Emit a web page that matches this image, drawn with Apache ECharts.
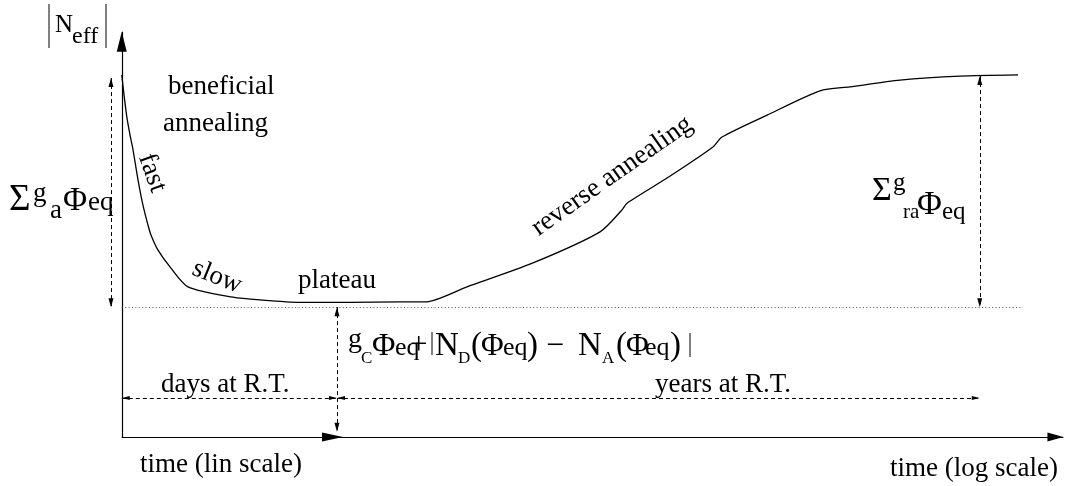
<!DOCTYPE html>
<html>
<head>
<meta charset="utf-8">
<script src="https://cdn.jsdelivr.net/npm/echarts@6/dist/echarts.min.js"></script>
<style>
  html, body { margin: 0; padding: 0; background: #ffffff; }
  #chart { width: 1069px; height: 486px; }
</style>
</head>
<body>
<div id="chart"></div>
<script>
// Annealing of |N_eff| after irradiation (schematic, arbitrary units)
const timeValues = [0, 0.24, 0.56, 0.89, 1.21, 1.75, 2.28, 2.82, 3.14, 3.90, 5.19, 7.12,
  11.97, 14.87, 19.17, 24.55, 29.93, 32.62, 37.14, 44.24, 51.45, 53.81, 54.35, 58.66,
  63.60, 64.57, 69.41, 75.12, 78.34, 83.72, 90.18, 96.42];
const neffValues = [90.9, 85.9, 80.1, 75.8, 72.1, 64.5, 58.2, 53.2, 50.7, 46.9, 42.7, 37.7,
  35.1, 34.4, 33.8, 33.8, 33.9, 33.9, 37.7, 43.7, 51.5, 57.0, 58.7, 65.0,
  72.8, 75.3, 80.8, 86.9, 87.9, 89.6, 90.6, 90.9];

// Levels and boundaries of the annotated quantities
const stableLevel = 32.6;      // g_C Φ_eq + |N_D − N_A|
const beneficialTop = 90.1;    // start of beneficial annealing
const reverseTop = 90.6;       // saturation of reverse annealing
const linLogBoundary = 23.15;  // end of the "days at R.T." span
const yearsEnd = 92.3;         // end of the "years at R.T." span
const timeAxisEnd = 101.3;
const linAxisEnd = 23.8;
const neffAxisEnd = 101.7;
const stableLineEnd = 96.95;
const beneficialArrowX = -1.16;
const reverseArrowX = 92.3;
const spanRowY = 9.8;          // height of the time-span arrows
const spanDividerBottom = 1.3;

const X_MIN = -13.1, X_MAX = 101.9, Y_MIN = -12.3, Y_MAX = 109.7;

const chart = echarts.init(document.getElementById('chart'), null, { renderer: 'canvas' });

const serif = '"Liberation Serif", "Times New Roman", serif';

function tipEnd(coord, w, h) {
  return { coord, symbol: 'triangle', symbolSize: [w, h], symbolOffset: [0, h / 2] };
}
function plain(coord) { return { coord, symbol: 'none' }; }

const solid = { color: '#000', width: 1.2, type: 'solid' };
const dashed = { color: '#000', width: 1, type: [4, 3] };
const dotted = { color: '#555', width: 1, type: [1, 2.4] };

const markLines = [
  // axes
  [Object.assign(plain([0, 0]), { lineStyle: solid }), tipEnd([0, neffAxisEnd], 10, 20)],
  [Object.assign(plain([0, 0]), { lineStyle: solid }), tipEnd([timeAxisEnd, 0], 9, 16)],
  [Object.assign(plain([0, 0]), { lineStyle: solid }), tipEnd([linAxisEnd, 0], 9, 21)],
  // stable damage level
  [Object.assign(plain([0, stableLevel]), { lineStyle: dotted }), plain([stableLineEnd, stableLevel])],
  // amplitude of beneficial annealing
  [Object.assign(tipEnd([beneficialArrowX, beneficialTop], 5, 9), { lineStyle: dashed }),
   tipEnd([beneficialArrowX, stableLevel], 5, 9)],
  // amplitude of reverse annealing
  [Object.assign(tipEnd([reverseArrowX, reverseTop], 5, 9), { lineStyle: dashed }),
   tipEnd([reverseArrowX, stableLevel], 5, 9)],
  // stable damage amplitude
  [Object.assign(tipEnd([linLogBoundary, stableLevel], 5, 9), { lineStyle: dashed }),
   tipEnd([linLogBoundary, spanDividerBottom], 5, 9)],
  // time spans
  [Object.assign(tipEnd([0, spanRowY], 4, 8), { lineStyle: dashed }),
   tipEnd([linLogBoundary, spanRowY], 4, 8)],
  [Object.assign(tipEnd([linLogBoundary, spanRowY], 4, 8), { lineStyle: dashed }),
   tipEnd([yearsEnd, spanRowY], 4, 8)]
];

function piece(text, x, baseline, size) {
  return {
    type: 'text', x: x, y: baseline - 0.27 * size, silent: true,
    style: { text: text, font: size + 'px ' + serif, fill: '#000', align: 'left', verticalAlign: 'middle' }
  };
}
function turned(text, cx, cy, deg, size) {
  return {
    type: 'text', x: cx, y: cy, rotation: deg * Math.PI / 180, silent: true,
    style: { text: text, font: size + 'px ' + serif, fill: '#000', align: 'center', verticalAlign: 'middle' }
  };
}
function bar(x, y1, y2) {
  return { type: 'line', silent: true, shape: { x1: x, y1: y1, x2: x, y2: y2 }, style: { stroke: '#000', lineWidth: 1 } };
}

const texts = [
  // |N_eff|
  bar(49, 4, 48), bar(106, 4, 48),
  piece('N', 55, 32, 25), piece('eff', 72, 43, 24),
  // phase labels
  piece('beneficial', 168, 94, 27),
  piece('annealing', 163, 131, 27),
  turned('fast', 152, 173, -70, 27),
  turned('slow', 217, 277, -22, 27),
  piece('plateau', 298, 288, 27),
  turned('reverse annealing', 612, 176, 35, 27),
  // Σ g_a Φ_eq
  piece('Σ', 9, 210, 37), piece('g', 33, 201, 27), piece('a', 50, 218, 27),
  piece('Φ', 63, 210, 33), piece('eq', 88, 210, 27),
  // Σ g_ra Φ_eq
  piece('Σ', 872, 200, 34), piece('g', 893, 190, 25), piece('ra', 903, 218, 21),
  piece('Φ', 917, 214, 34), piece('eq', 942, 219, 25),
  // g_C Φ_eq + |N_D(Φ_eq) − N_A(Φ_eq)|
  piece('g', 348, 347, 28), piece('C', 361, 363, 17),
  piece('Φ', 372, 355, 32), piece('eq', 395, 355, 26),
  piece('+', 410, 354, 31), bar(432, 332, 355),
  piece('N', 435, 355, 33), piece('D', 458, 363, 17),
  piece('(', 471, 355, 33), piece('Φ', 481, 355, 31), piece('eq', 503, 355, 26), piece(')', 527, 355, 33),
  piece('−', 546, 355, 32),
  piece('N', 578, 355, 33), piece('A', 602, 363, 17),
  piece('(', 616, 355, 33), piece('Φ', 626, 355, 31), piece('eq', 645, 355, 26), piece(')', 670, 355, 33),
  bar(690, 333, 357),
  // time spans and axis titles
  piece('days at R.T.', 161, 392, 27),
  piece('years at R.T.', 655, 392, 27),
  piece('time (lin scale)', 140, 472, 27),
  piece('time (log scale)', 890, 476, 27)
];

chart.setOption({
  animation: false,
  backgroundColor: '#ffffff',
  grid: { left: 0, right: 0, top: 0, bottom: 0 },
  xAxis: { type: 'value', min: X_MIN, max: X_MAX, show: false },
  yAxis: { type: 'value', min: Y_MIN, max: Y_MAX, show: false },
  series: [
    {
      type: 'line',
      data: timeValues.map((t, i) => [t, neffValues[i]]),
      smooth: 0.25,
      showSymbol: false,
      clip: false,
      lineStyle: { color: '#000', width: 1.3 },
      silent: true,
      markLine: {
        silent: true,
        symbol: 'none',
        label: { show: false },
        emphasis: { disabled: true },
        data: markLines
      }
    }
  ],
  graphic: texts
});
</script>
</body>
</html>
